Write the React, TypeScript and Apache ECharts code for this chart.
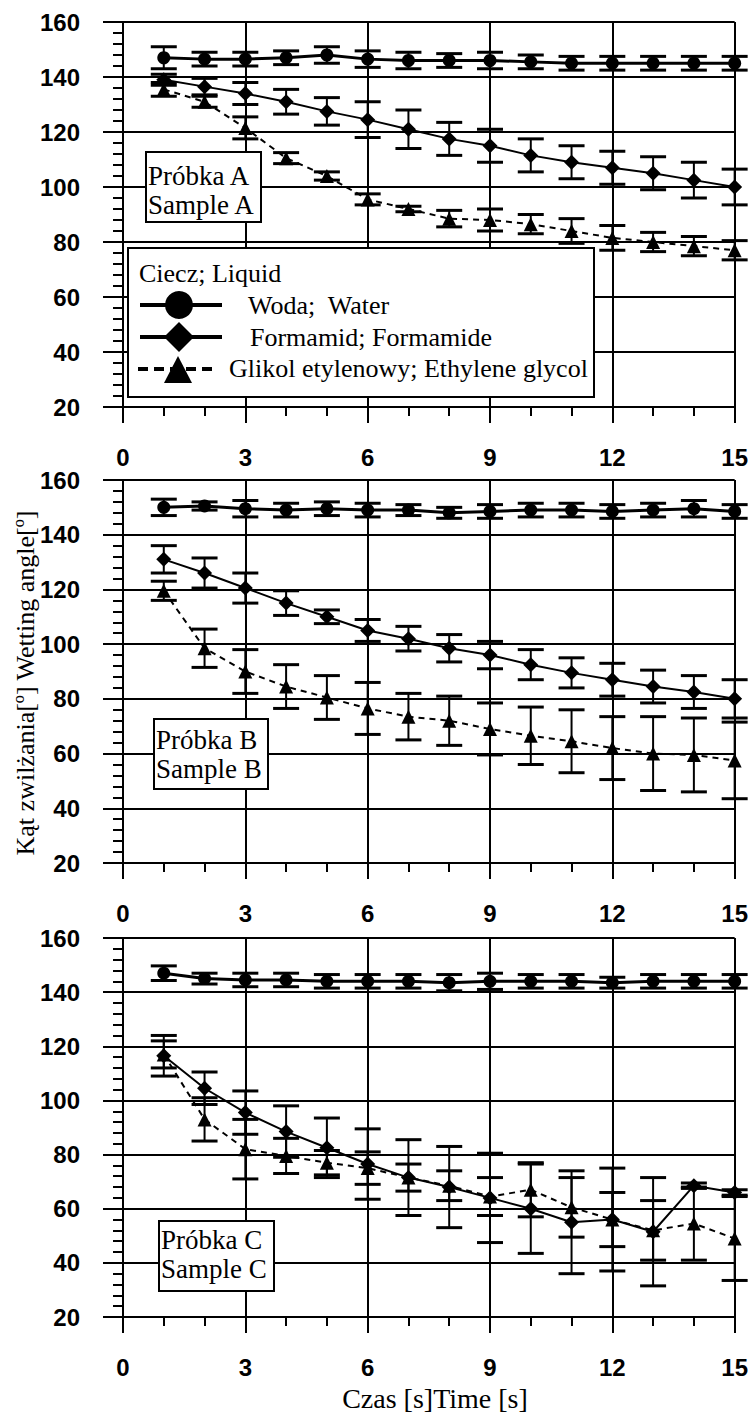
import React, { useEffect, useRef } from "react";
import * as echarts from "echarts";

// ---------- data ----------
const time = [1, 2, 3, 4, 5, 6, 7, 8, 9, 10, 11, 12, 13, 14, 15];
const xTicks = [0, 3, 6, 9, 12, 15];
const yTicks = [20, 40, 60, 80, 100, 120, 140, 160];

const seriesNames = ["Woda;  Water", "Formamid; Formamide", "Glikol etylenowy; Ethylene glycol"];
const legendTitle = "Ciecz; Liquid";
const panelLabels = [
  ["Próbka A", "Sample A"],
  ["Próbka B", "Sample B"],
  ["Próbka C", "Sample C"],
];
const yTitle = "Kąt zwilżania[º] Wetting angle[º]";
const xTitle = "Czas [s]Time [s]";

// Sample A
const waterA = [147, 146.5, 146.5, 147, 148, 146.5, 146, 146, 146, 145.5, 145, 145, 145, 145, 145];
const waterAErr = [4, 2.5, 2.5, 2.5, 3, 3, 3, 2.5, 3, 2.5, 2.5, 2.5, 2.5, 2.5, 2.5];
const formA = [139, 136.5, 134, 131, 127.5, 124.5, 121, 117.5, 115, 111.5, 109, 107, 105, 102.5, 100];
const formAErr = [2, 3, 4, 4.5, 5, 6.5, 7, 6, 6, 6, 6, 6, 6, 6.5, 6.5];
const glycA = [135.5, 131, 121.5, 110.5, 104, 95.5, 92, 88.5, 88, 86.5, 84, 81.5, 80, 78.5, 77];
const glycAErr = [2.5, 2, 4, 2, 1.5, 2, 1, 3, 4, 3.5, 4.5, 4.5, 3.5, 3.5, 3.5];

// Sample B
const waterB = [150, 150.5, 149.5, 149, 149.5, 149, 149, 148, 148.5, 149, 149, 148.5, 149, 149.5, 148.5];
const waterBErr = [3, 1.5, 3, 2.5, 2.5, 2.5, 2, 2, 2.5, 2.5, 2.5, 2.5, 2.5, 3, 2.5];
const formB = [131, 126, 120.5, 115, 110, 105, 102, 98.5, 96, 92.5, 89.5, 87, 84.5, 82.5, 80];
const formBErr = [5, 5.5, 5.5, 4.5, 2.5, 4, 4.5, 5, 5, 5.5, 5.5, 6, 6, 6, 7];
const glycB = [119.5, 98.5, 90, 84.5, 80.5, 76.5, 73.5, 72, 69, 66.5, 64.5, 62, 60, 59.5, 57.5];
const glycBErr = [3.5, 7, 8, 8, 8, 9.5, 8.5, 9, 9.5, 10.5, 11.5, 11.5, 13.5, 13.5, 14];

// Sample C
const waterC = [147, 145, 144.5, 144.5, 144, 144, 144, 143.5, 144, 144, 144, 143.5, 144, 144, 144];
const waterCErr = [2.7, 2, 2.5, 2.5, 2.5, 2.5, 2.5, 3, 3, 2.5, 2.5, 2, 2.5, 2.5, 2.5];
const formC = [116.5, 104.5, 95.5, 88.5, 82.5, 76.5, 71.5, 68, 64, 60, 55, 56, 51.5, 68.5, 66];
const formCErr = [7.5, 6, 8, 9.5, 11, 13, 14, 15, 16.5, 16.5, 19, 19, 20, 1, 1];
const glycC = [117, 93, 82, 79.5, 77, 75, 71.5, 68.5, 64.5, 67, 60.5, 56, 52, 54.5, 49];
const glycCErr = [5, 8, 11, 6.5, 4.5, 6, 5, 5.5, 7, 10, 11, 10, 11, 13.5, 15.5];

const panelData = [
  { water: waterA, waterErr: waterAErr, form: formA, formErr: formAErr, glyc: glycA, glycErr: glycAErr },
  { water: waterB, waterErr: waterBErr, form: formB, formErr: formBErr, glyc: glycB, glycErr: glycBErr },
  { water: waterC, waterErr: waterCErr, form: formC, formErr: formCErr, glyc: glycC, glycErr: glycCErr },
];

// ---------- layout / style ----------
const SANS = "'Liberation Sans', Arial, sans-serif";
const SERIF = "'Liberation Serif', 'Times New Roman', serif";
const BLACK = "#000";
const gridLayout = [
  { top: 22, height: 385 },
  { top: 480, height: 383 },
  { top: 938, height: 379 },
];
const boxLayout = [
  { x: 146, y: 152, w: 115, h: 70, t1: 176, t2: 205 },
  { x: 154, y: 719, w: 114, h: 70, t1: 740, t2: 769 },
  { x: 159, y: 1221, w: 115, h: 70, t1: 1240, t2: 1269 },
];

const errorBarRender = (params: any, api: any) => {
  const x = api.value(0);
  const lo = api.coord([x, api.value(1)]);
  const hi = api.coord([x, api.value(2)]);
  const w = 13;
  const st = { stroke: BLACK, lineWidth: 2 };
  const cap = { stroke: BLACK, lineWidth: 3 };
  return {
    type: "group",
    children: [
      { type: "line", shape: { x1: lo[0], y1: lo[1], x2: hi[0], y2: hi[1] }, style: st },
      { type: "line", shape: { x1: lo[0] - w, y1: lo[1], x2: lo[0] + w, y2: lo[1] }, style: cap },
      { type: "line", shape: { x1: hi[0] - w, y1: hi[1], x2: hi[0] + w, y2: hi[1] }, style: cap },
    ],
  };
};

function buildOption() {
  const grids = gridLayout.map((g) => ({ left: 123, width: 612, top: g.top, height: g.height }));
  const lineSt = { color: BLACK, width: 2 };
  const xAxes = grids.map((_, i) => ({
    type: "value",
    gridIndex: i,
    min: xTicks[0],
    max: xTicks[xTicks.length - 1],
    interval: xTicks[1] - xTicks[0],
    axisLine: { show: true, onZero: false, lineStyle: lineSt },
    axisTick: { show: true, inside: false, length: 16, lineStyle: lineSt },
    minorTick: { show: true, splitNumber: 3, length: 9, lineStyle: lineSt },
    splitLine: { show: true, lineStyle: lineSt },
    axisLabel: { show: true, margin: 38, fontFamily: SANS, fontWeight: "bold", fontSize: 24, color: BLACK },
  }));
  const yAxes = grids.map((_, i) => ({
    type: "value",
    gridIndex: i,
    min: yTicks[0],
    max: yTicks[yTicks.length - 1],
    interval: yTicks[1] - yTicks[0],
    axisLine: { show: true, onZero: false, lineStyle: lineSt },
    axisTick: { show: true, inside: false, length: 20, lineStyle: lineSt },
    minorTick: { show: true, splitNumber: 5, length: 10, lineStyle: lineSt },
    splitLine: { show: true, lineStyle: lineSt },
    axisLabel: { show: true, margin: 43, fontFamily: SANS, fontWeight: "bold", fontSize: 24, color: BLACK },
  }));

  const errData = (v: number[], e: number[]) => time.map((t, i) => [t, v[i] - e[i], v[i] + e[i]]);
  const ptData = (v: number[]) => time.map((t, i) => [t, v[i]]);

  const series: any[] = [];
  panelData.forEach((p, i) => {
    const defs = [
      { name: seriesNames[0], v: p.water, e: p.waterErr, symbol: "circle", size: 13, width: 3, type: "solid" },
      { name: seriesNames[1], v: p.form, e: p.formErr, symbol: "diamond", size: 15, width: 2, type: "solid" },
      { name: seriesNames[2], v: p.glyc, e: p.glycErr, symbol: "triangle", size: 14, width: 2, type: [6, 5] },
    ];
    defs.forEach((d) => {
      series.push({
        type: "custom",
        xAxisIndex: i,
        yAxisIndex: i,
        z: 3,
        silent: true,
        clip: false,
        encode: { x: 0, y: [1, 2] },
        data: errData(d.v, d.e),
        renderItem: errorBarRender,
      });
    });
    defs.forEach((d) => {
      series.push({
        type: "line",
        name: d.name,
        xAxisIndex: i,
        yAxisIndex: i,
        z: 5,
        clip: false,
        symbol: d.symbol,
        symbolSize: d.size,
        itemStyle: { color: BLACK },
        lineStyle: { color: BLACK, width: d.width, type: d.type },
        data: ptData(d.v),
      });
    });
  });

  const Z = 100;
  const textStyle = (size: number) => ({ fill: BLACK, fontFamily: SERIF, fontSize: size });
  const graphic: any[] = [];

  // legend (panel A)
  graphic.push({
    type: "rect", z: Z, shape: { x: 128, y: 248, width: 466, height: 149 },
    style: { fill: "#fff", stroke: BLACK, lineWidth: 2 },
  });
  graphic.push({ type: "text", z: Z + 1, x: 139, y: 273, style: { ...textStyle(26), text: legendTitle, verticalAlign: "middle" } });
  graphic.push({ type: "line", z: Z + 1, shape: { x1: 140, y1: 305, x2: 222, y2: 305 }, style: { stroke: BLACK, lineWidth: 4 } });
  graphic.push({ type: "circle", z: Z + 2, shape: { cx: 179, cy: 305, r: 14 }, style: { fill: BLACK } });
  graphic.push({ type: "text", z: Z + 1, x: 248, y: 305, style: { ...textStyle(26), text: seriesNames[0], verticalAlign: "middle" } });
  graphic.push({ type: "line", z: Z + 1, shape: { x1: 140, y1: 337, x2: 222, y2: 337 }, style: { stroke: BLACK, lineWidth: 4 } });
  graphic.push({
    type: "polygon", z: Z + 2, shape: { points: [[179, 322], [194, 337], [179, 352], [164, 337]] }, style: { fill: BLACK },
  });
  graphic.push({ type: "text", z: Z + 1, x: 250, y: 337, style: { ...textStyle(26), text: seriesNames[1], verticalAlign: "middle" } });
  graphic.push({
    type: "line", z: Z + 1, shape: { x1: 138, y1: 369, x2: 218, y2: 369 },
    style: { stroke: BLACK, lineWidth: 4, lineDash: [10, 6] },
  });
  graphic.push({
    type: "polygon", z: Z + 2, shape: { points: [[178, 356], [164, 383], [192, 383]] }, style: { fill: BLACK },
  });
  graphic.push({ type: "text", z: Z + 1, x: 229, y: 368, style: { ...textStyle(26), text: seriesNames[2], verticalAlign: "middle" } });

  // sample boxes
  boxLayout.forEach((b, i) => {
    graphic.push({
      type: "rect", z: Z, shape: { x: b.x, y: b.y, width: b.w, height: b.h },
      style: { fill: "#fff", stroke: BLACK, lineWidth: 2 },
    });
    graphic.push({ type: "text", z: Z + 1, x: b.x + 2, y: b.t1, style: { ...textStyle(27), text: panelLabels[i][0], verticalAlign: "middle" } });
    graphic.push({ type: "text", z: Z + 1, x: b.x + 2, y: b.t2, style: { ...textStyle(27), text: panelLabels[i][1], verticalAlign: "middle" } });
  });

  // axis titles
  graphic.push({
    type: "text", z: Z, x: 25, y: 683, rotation: Math.PI / 2,
    style: { ...textStyle(26), text: yTitle, align: "center", verticalAlign: "middle" },
  });
  graphic.push({
    type: "text", z: Z, x: 435, y: 1398,
    style: { ...textStyle(28), text: xTitle, align: "center", verticalAlign: "middle" },
  });

  return {
    animation: false,
    backgroundColor: "#fff",
    grid: grids,
    xAxis: xAxes,
    yAxis: yAxes,
    series,
    graphic,
  };
}

export default function App() {
  const ref = useRef<HTMLDivElement>(null);
  useEffect(() => {
    document.body.style.margin = "0";
    const chart = echarts.init(ref.current as HTMLDivElement, null, { renderer: "svg" });
    chart.setOption(buildOption() as any);
    return () => chart.dispose();
  }, []);
  return <div ref={ref} style={{ width: 751, height: 1412, background: "#fff" }} />;
}
